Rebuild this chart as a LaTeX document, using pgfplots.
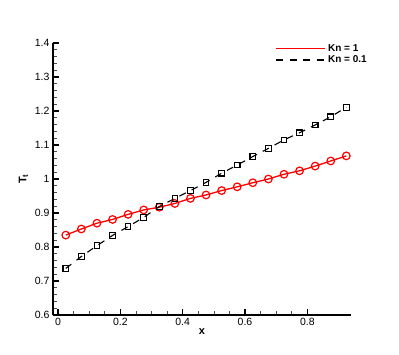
\documentclass[border=0pt]{standalone}
\usepackage{pgfplots}
\pgfplotsset{compat=1.18}
\usepackage{fontspec}
\setmainfont{Liberation Sans}

\begin{document}
\begin{tikzpicture}
  \useasboundingbox (-53pt,-40pt) rectangle (346pt,315pt);
  \begin{axis}[
    scale only axis,
    width=298pt, height=272pt,
    xmin=-0.016, xmax=0.94,
    ymin=0.6, ymax=1.4,
    axis lines=left,
    axis line style={line width=1.2pt,-},
    xtick={0,0.2,...,0.8},
    ytick={0.6,0.7,...,1.4},
    minor x tick num=3,
    minor y tick num=4,
    tick align=inside,
    major tick length=6pt,
    minor tick length=4pt,
    every major tick/.style={line width=1.1pt,black},
    every minor tick/.style={line width=0.6pt,black!70},
    tick label style={font=\fontsize{10.5}{12}\selectfont},
    /pgf/number format/assume math mode=true,
    xlabel={\bfseries x},
    ylabel={\bfseries T\textsubscript{t}},
    label style={font=\fontsize{11}{12}\selectfont},
    xlabel style={yshift=4pt},
    ylabel style={yshift=0pt},
    legend style={at={(1.07,1.01)}, anchor=north east, draw=none, fill=none,
      font=\bfseries\fontsize{10}{11}\selectfont, row sep=-1pt,
      legend cell align=left},
    legend image code/.code={\draw[#1] plot coordinates {(0pt,0pt) (49pt,0pt)};},
  ]
    \addlegendimage{red, line width=1.6pt, solid}
    \addlegendentry{Kn = 1}
    \addlegendimage{black, line width=1.4pt, dash pattern=on 7pt off 6.5pt}
    \addlegendentry{Kn = 0.1}
    \addplot[red, line width=1.3pt, mark=o, mark size=3.8pt, forget plot,
      mark options={solid, line width=1.2pt, fill=white}] coordinates {
      (0.025,0.835)(0.075,0.853)(0.125,0.870)(0.175,0.881)(0.225,0.896)
      (0.275,0.909)(0.325,0.917)(0.375,0.928)(0.425,0.943)(0.475,0.953)
      (0.525,0.966)(0.575,0.977)(0.625,0.989)(0.675,1.000)(0.725,1.014)
      (0.775,1.024)(0.825,1.038)(0.875,1.053)(0.925,1.068)
    };
    \addplot[black, line width=1.1pt, dash pattern=on 7pt off 6.5pt,
      mark=square, mark size=2.8pt, forget plot,
      mark options={solid, line width=1.1pt, fill=white}] coordinates {
      (0.025,0.737)(0.075,0.772)(0.125,0.804)(0.175,0.834)(0.225,0.860)
      (0.275,0.887)(0.325,0.919)(0.375,0.943)(0.425,0.966)(0.475,0.990)
      (0.525,1.017)(0.575,1.041)(0.625,1.066)(0.675,1.090)(0.725,1.115)
      (0.775,1.136)(0.825,1.159)(0.875,1.183)(0.925,1.211)
    };
  \end{axis}
\end{tikzpicture}
\end{document}
